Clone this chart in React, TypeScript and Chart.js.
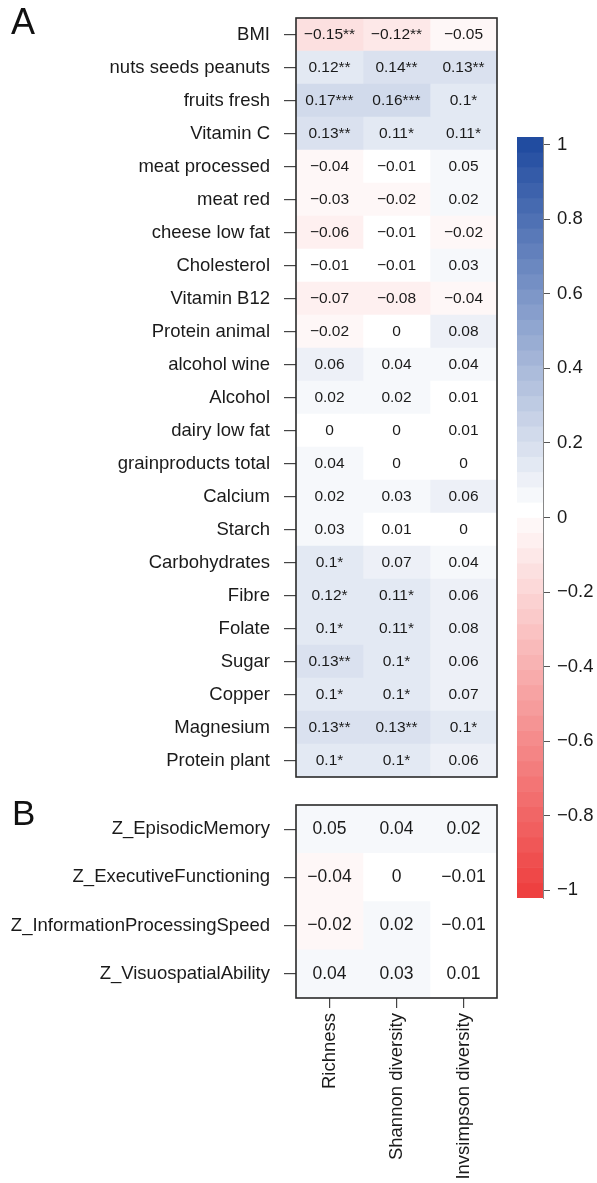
import React, { useEffect, useRef } from 'react';
import { Chart, registerables } from 'chart.js';

Chart.register(...registerables);

// ---------- data ----------
const colLabels = ['Richness', 'Shannon diversity', 'Invsimpson diversity'];

const rowsA = [
  'BMI', 'nuts seeds peanuts', 'fruits fresh', 'Vitamin C', 'meat processed', 'meat red',
  'cheese low fat', 'Cholesterol', 'Vitamin B12', 'Protein animal', 'alcohol wine', 'Alcohol',
  'dairy low fat', 'grainproducts total', 'Calcium', 'Starch', 'Carbohydrates', 'Fibre',
  'Folate', 'Sugar', 'Copper', 'Magnesium', 'Protein plant',
];
const richnessA = [-0.15, 0.12, 0.17, 0.13, -0.04, -0.03, -0.06, -0.01, -0.07, -0.02, 0.06, 0.02, 0, 0.04, 0.02, 0.03, 0.1, 0.12, 0.1, 0.13, 0.1, 0.13, 0.1];
const shannonA = [-0.12, 0.14, 0.16, 0.11, -0.01, -0.02, -0.01, -0.01, -0.08, 0, 0.04, 0.02, 0, 0, 0.03, 0.01, 0.07, 0.11, 0.11, 0.1, 0.1, 0.13, 0.1];
const invsimpsonA = [-0.05, 0.13, 0.1, 0.11, 0.05, 0.02, -0.02, 0.03, -0.04, 0.08, 0.04, 0.01, 0.01, 0, 0.06, 0, 0.04, 0.06, 0.08, 0.06, 0.07, 0.1, 0.06];
const richnessStarsA = ['**', '**', '***', '**', '', '', '', '', '', '', '', '', '', '', '', '', '*', '*', '*', '**', '*', '**', '*'];
const shannonStarsA = ['**', '**', '***', '*', '', '', '', '', '', '', '', '', '', '', '', '', '', '*', '*', '*', '*', '**', '*'];
const invsimpsonStarsA = ['', '**', '*', '*', '', '', '', '', '', '', '', '', '', '', '', '', '', '', '', '', '', '*', ''];

const rowsB = ['Z_EpisodicMemory', 'Z_ExecutiveFunctioning', 'Z_InformationProcessingSpeed', 'Z_VisuospatialAbility'];
const richnessB = [0.05, -0.04, -0.02, 0.04];
const shannonB = [0.04, 0, 0.02, 0.03];
const invsimpsonB = [0.02, -0.01, -0.01, 0.01];
const noStarsB = ['', '', '', ''];

const colorbarTicks = [1, 0.8, 0.6, 0.4, 0.2, 0, -0.2, -0.4, -0.6, -0.8, -1];
const N_BANDS = 50;

// ---------- styling ----------
const FONT = "'Liberation Sans', Arial, Helvetica, sans-serif";
const RED = [238, 64, 64];
const BLUE = [33, 76, 160];
const TEXT = '#1a1a1a';
const TICK = '#444';

function mix(c: number[], t: number) {
  const r = Math.round(255 + (c[0] - 255) * t);
  const g = Math.round(255 + (c[1] - 255) * t);
  const b = Math.round(255 + (c[2] - 255) * t);
  return `rgb(${r},${g},${b})`;
}
function bandColor(k: number) {
  const mid = N_BANDS / 2;
  if (k >= mid) return mix(BLUE, (k - mid) / (N_BANDS - 1 - mid));
  return mix(RED, (mid - k) / mid);
}
const bandStep = 2 / (N_BANDS - 1);
function cellColor(v: number) {
  const n = Math.max(0, Math.ceil((Math.abs(v) - 0.015) / 0.035));
  const mid = N_BANDS / 2;
  return v >= 0 ? bandColor(Math.min(N_BANDS - 1, mid + n)) : bandColor(Math.max(0, mid - n));
}
function fmt(v: number) {
  const r = Math.round(v * 100) / 100;
  if (r === 0) return '0';
  return String(r).replace('-', '\u2212');
}

const cellTextPlugin = {
  id: 'cellText',
  afterDatasetsDraw(chart: any, _args: any, opts: any) {
    const ctx = chart.ctx;
    ctx.save();
    ctx.font = `${opts.size}px ${FONT}`;
    ctx.fillStyle = TEXT;
    ctx.textAlign = 'center';
    ctx.textBaseline = 'middle';
    chart.data.datasets.forEach((ds: any, di: number) => {
      const meta = chart.getDatasetMeta(di);
      meta.data.forEach((el: any, i: number) => {
        const p = el.getCenterPoint();
        ctx.fillText(fmt(ds.values[i]) + ds.stars[i], p.x, p.y);
      });
    });
    ctx.restore();
  },
};

const boxPlugin = {
  id: 'box',
  afterDatasetsDraw(chart: any) {
    const { left, top, right, bottom } = chart.chartArea;
    const ctx = chart.ctx;
    ctx.save();
    ctx.strokeStyle = '#2a2a2a';
    ctx.lineWidth = 1.6;
    ctx.strokeRect(left, top, right - left, bottom - top);
    ctx.restore();
  },
};

function heatConfig(rows: string[], cols: number[][], stars: string[][], o: any) {
  return {
    type: 'bar',
    data: {
      labels: rows,
      datasets: cols.map((vals, j) => ({
        data: vals.map(() => [j - 0.5, j + 0.5]),
        values: vals,
        stars: stars[j],
        backgroundColor: vals.map(cellColor),
        borderWidth: 0,
        grouped: false,
        categoryPercentage: 1,
        barPercentage: 1,
      })),
    },
    options: {
      indexAxis: 'y',
      responsive: false,
      animation: false,
      events: [],
      layout: { padding: o.padding },
      plugins: {
        legend: { display: false },
        tooltip: { enabled: false },
        cellText: { size: o.cellSize },
      },
      scales: {
        x: o.showX
          ? {
              type: 'linear',
              min: -0.5,
              max: 2.5,
              afterBuildTicks: (s: any) => {
                s.ticks = colLabels.map((_, i) => ({ value: i }));
              },
              ticks: {
                callback: (v: any) => colLabels[v],
                minRotation: 90,
                maxRotation: 90,
                autoSkip: false,
                padding: 5,
                font: { size: 18.5, family: FONT },
                color: TEXT,
              },
              grid: { drawOnChartArea: false, drawTicks: true, tickLength: 10, color: TICK, lineWidth: 1.2 },
              border: { display: false },
              afterFit: (s: any) => {
                s.height = o.xHeight;
                s.paddingLeft = 0;
                s.paddingRight = 0;
              },
            }
          : { type: 'linear', min: -0.5, max: 2.5, display: false },
        y: {
          type: 'category',
          offset: true,
          grid: { offset: false, drawOnChartArea: false, drawTicks: true, tickLength: 12, color: TICK, lineWidth: 1.2 },
          border: { display: false },
          ticks: { font: { size: 18.5, family: FONT }, color: TEXT, padding: 14, autoSkip: false },
          afterFit: (s: any) => {
            s.width = 296;
            s.paddingTop = 0;
            s.paddingBottom = 0;
          },
        },
      },
    },
    plugins: [cellTextPlugin, boxPlugin],
  };
}

function colorbarConfig() {
  const centers = Array.from({ length: N_BANDS }, (_, k) => -1 + k * bandStep);
  const half = bandStep / 2;
  return {
    type: 'bar',
    data: {
      labels: ['cb'],
      datasets: [
        {
          data: centers.map((c) => ({ x: 'cb', y: [c - half, c + half] })),
          backgroundColor: centers.map((_, k) => bandColor(k)),
          borderWidth: 0,
          categoryPercentage: 1,
          barPercentage: 1,
        },
      ],
    },
    options: {
      responsive: false,
      animation: false,
      events: [],
      layout: { padding: { left: 17, top: 20, bottom: 19, right: 0 } },
      plugins: { legend: { display: false }, tooltip: { enabled: false } },
      scales: {
        x: { type: 'category', display: false },
        y: {
          type: 'linear',
          position: 'right',
          min: -1 - half,
          max: 1 + half,
          afterBuildTicks: (s: any) => {
            s.ticks = colorbarTicks.map((v) => ({ value: v }));
          },
          ticks: {
            callback: (v: any) => fmt(Math.round(v * 10) / 10),
            font: { size: 18.5, family: FONT },
            color: TEXT,
            padding: 7,
          },
          grid: { drawOnChartArea: false, drawTicks: true, tickLength: 7, color: '#555', lineWidth: 1 },
          border: { display: true, color: '#888', width: 1 },
          afterFit: (s: any) => {
            s.width = 54;
            s.paddingTop = 0;
            s.paddingBottom = 0;
          },
        },
      },
    },
  };
}

function ChartCanvas({ config, left, top, width, height }: any) {
  const ref = useRef<HTMLCanvasElement | null>(null);
  useEffect(() => {
    if (!ref.current) return;
    const chart = new Chart(ref.current, config());
    return () => chart.destroy();
  }, []);
  return (
    <canvas
      ref={ref}
      width={width}
      height={height}
      style={{ position: 'absolute', left, top, width, height, display: 'block' }}
    />
  );
}

export default function App() {
  return (
    <div style={{ position: 'absolute', left: 0, top: 0, width: 597, height: 1183, background: '#fff', overflow: 'hidden' }}>
      <ChartCanvas
        left={0}
        top={0}
        width={500}
        height={790}
        config={() =>
          heatConfig(rowsA, [richnessA, shannonA, invsimpsonA], [richnessStarsA, shannonStarsA, invsimpsonStarsA], {
            padding: { top: 18, right: 3, bottom: 13, left: 0 },
            cellSize: 15.5,
            showX: false,
          })
        }
      />
      <ChartCanvas
        left={0}
        top={790}
        width={500}
        height={393}
        config={() =>
          heatConfig(rowsB, [richnessB, shannonB, invsimpsonB], [noStarsB, noStarsB, noStarsB], {
            padding: { top: 15, right: 3, bottom: 0, left: 0 },
            cellSize: 17.5,
            showX: true,
            xHeight: 185,
          })
        }
      />
      <ChartCanvas left={500} top={117} width={97} height={800} config={colorbarConfig} />
      <div style={{ position: 'absolute', left: 11, top: 4, font: `36px/36px ${FONT}`, color: '#111' }}>A</div>
      <div style={{ position: 'absolute', left: 12, top: 795, font: `35px/35px ${FONT}`, color: '#111' }}>B</div>
    </div>
  );
}
